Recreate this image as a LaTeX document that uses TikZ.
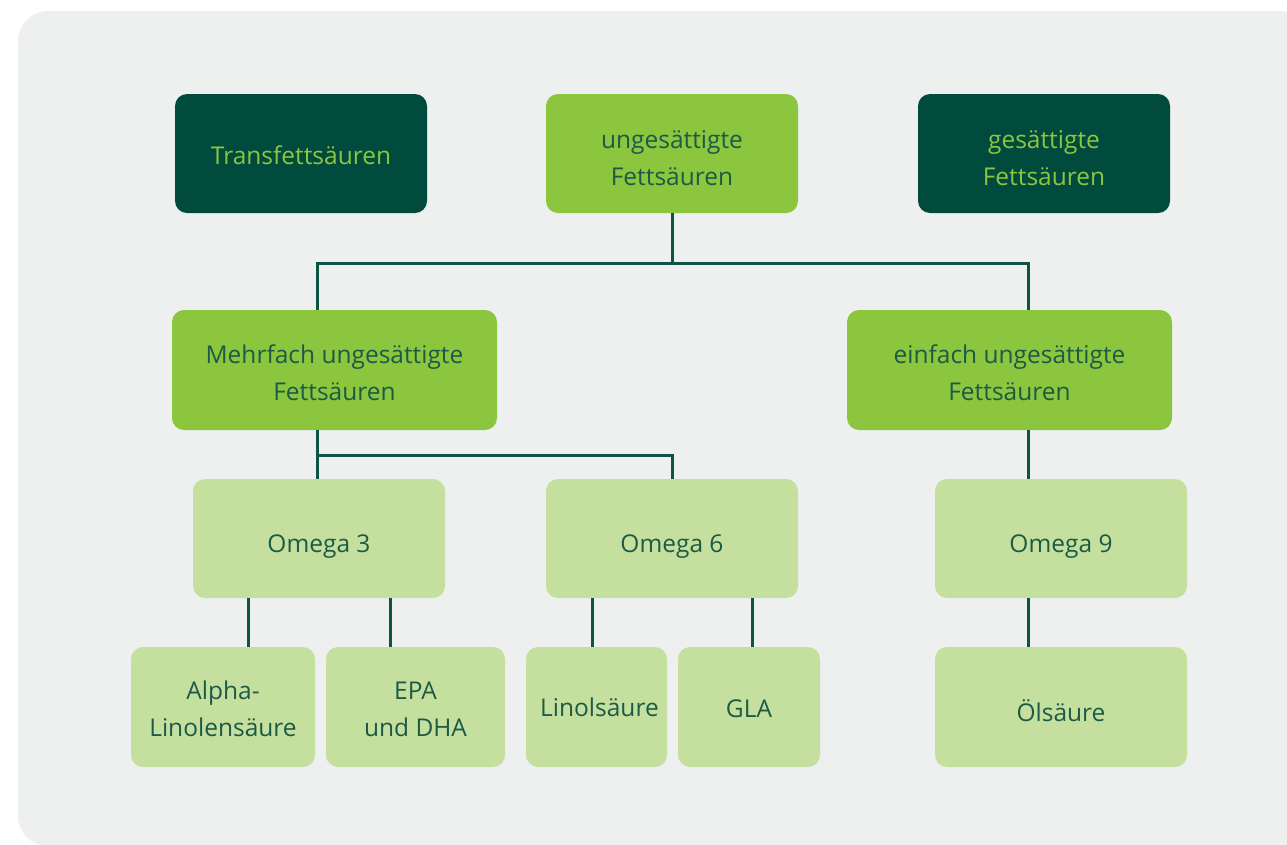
\documentclass[tikz,border=0pt]{standalone}
\usepackage{fontspec}
\setmainfont{Open Sans}
\usepackage{tikz}

\definecolor{bgcol}{HTML}{EEF0EF}
\definecolor{darkbox}{HTML}{004A3E}
\definecolor{midbox}{HTML}{8CC63F}
\definecolor{lightbox}{HTML}{C5E09E}
\definecolor{linecol}{HTML}{0D5445}
\definecolor{textdark}{HTML}{1C5A46}

\begin{document}
\begin{tikzpicture}[x=1pt,y=-1pt,
    box/.style={draw=none,rounded corners=12pt,inner sep=0pt},
    lbl/.style={inner sep=0pt,align=center,font=\fontsize{24.5}{37}\selectfont,text=textdark},
    lbllight/.style={lbl,text=midbox},
    darkfat/.style={box,fill=darkbox,minimum width=252pt,minimum height=119pt},
    midfat/.style={box,fill=midbox,minimum width=252pt,minimum height=119pt},
    subfat/.style={box,fill=midbox,minimum width=325pt,minimum height=120pt},
    omegabox/.style={box,fill=lightbox,minimum width=252pt,minimum height=119pt},
    acidbox/.style={box,fill=lightbox,minimum height=120pt},
    link/.style={draw=linecol,line width=3pt}]
             \useasboundingbox (0,0) rectangle (1287,844);
             \fill[bgcol,rounded corners=30pt] (18,11) rectangle (1310,846);

             \node[darkfat,label={[lbllight,yshift=-2pt]center:Transfettsäuren}] (trans) at (301,153.5) {};
             \node[midfat,label={[lbl,yshift=-5pt]center:{ungesättigte\\Fettsäuren}}] (ung) at (672,153.5) {};
             \node[darkfat,label={[lbllight,yshift=-5pt]center:{gesättigte\\Fettsäuren}}] (ges) at (1044,153.5) {};

             \node[subfat,label={[lbl,yshift=-2.5pt]center:{Mehrfach ungesättigte\\Fettsäuren}}] (mehr) at (334.5,370) {};
             \node[subfat,label={[lbl,yshift=-2.5pt]center:{einfach ungesättigte\\Fettsäuren}}] (einf) at (1009.5,370) {};

             \node[omegabox,label={[lbl,yshift=-8pt]center:Omega 3}] (om3) at (319,538.5) {};
             \node[omegabox,label={[lbl,yshift=-8pt]center:Omega 6}] (om6) at (672,538.5) {};
             \node[omegabox,label={[lbl,yshift=-8pt]center:Omega 9}] (om9) at (1061,538.5) {};

             \node[acidbox,minimum width=184pt,label={[lbl,yshift=-2pt]center:{Alpha-\\Linolensäure}}] (alpha) at (223,707) {};
             \node[acidbox,minimum width=179pt,label={[lbl,yshift=-2pt]center:{EPA\\und DHA}}] (epa) at (415.5,707) {};
             \node[acidbox,minimum width=141pt,label={[lbl,xshift=3pt]center:Linolsäure}] (lino) at (596.5,707) {};
             \node[acidbox,minimum width=142pt,label={[lbl,yshift=-2pt]center:GLA}] (gla) at (749,707) {};
             \node[acidbox,minimum width=252pt,label={[lbl,yshift=-4pt]center:Ölsäure}] (oel) at (1061,707) {};

             \coordinate (bus1) at (672,263);
             \coordinate (bus2) at (317,455);

             \draw[link] (ung.south) -- (bus1);
             \draw[link] ([xshift=-17.5pt]mehr.north) |- (bus1) -| ([xshift=18.5pt]einf.north);

             \draw[link] ([xshift=-17.5pt]mehr.south) -- ([xshift=-17.5pt]mehr.south |- om3.north);
             \draw[link] (bus2) -| (om6.north);
             \draw[link] ([xshift=18.5pt]einf.south) -- ([xshift=18.5pt]einf.south |- om9.north);

             \draw[link] ([xshift=25pt]alpha.north) -- ([xshift=25pt]alpha.north |- om3.south);
             \draw[link] ([xshift=-25.5pt]epa.north) -- ([xshift=-25.5pt]epa.north |- om3.south);
             \draw[link] ([xshift=-4.5pt]lino.north) -- ([xshift=-4.5pt]lino.north |- om6.south);
             \draw[link] ([xshift=3pt]gla.north) -- ([xshift=3pt]gla.north |- om6.south);
             \draw[link] ([xshift=-33pt]oel.north) -- ([xshift=-33pt]oel.north |- om9.south);
             \end{tikzpicture}
\end{document}
